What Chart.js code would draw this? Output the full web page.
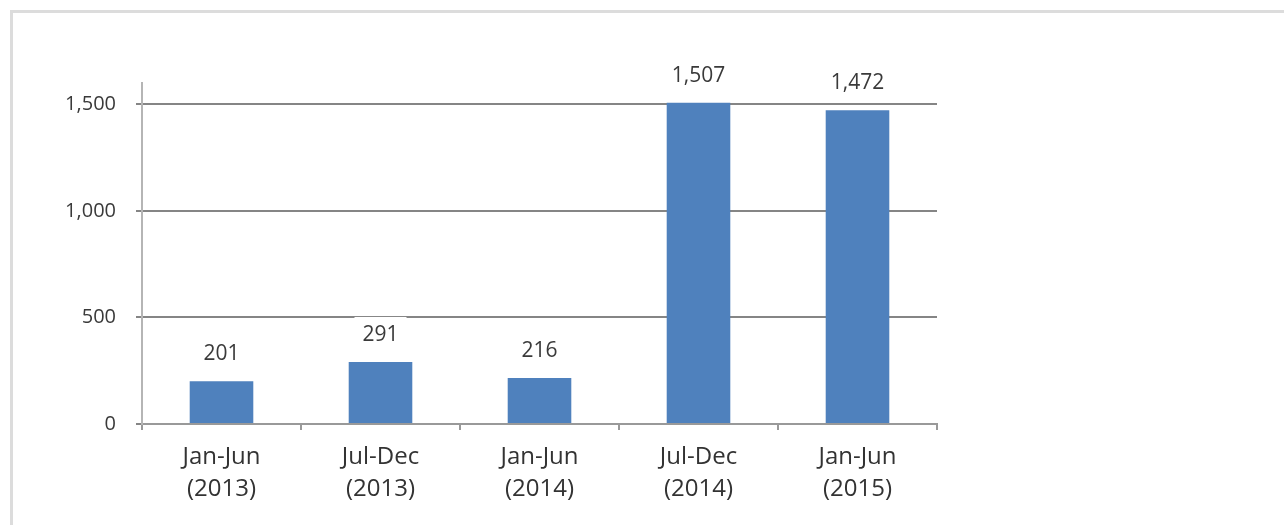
<!DOCTYPE html>
<html>
<head>
<meta charset="utf-8">
<script src="https://cdn.jsdelivr.net/npm/chart.js@4/dist/chart.umd.min.js"></script>
<style>
  html, body { margin: 0; padding: 0; background: #ffffff; }
  #wrap { position: relative; width: 1284px; height: 525px; overflow: hidden; }
  #frame { position: absolute; left: 10px; top: 10px; right: -10px; bottom: -10px;
           border-left: 3px solid #dcdcdc; border-top: 3px solid #dcdcdc; }
  canvas { position: absolute; left: 0; top: 0; }
</style>
</head>
<body>
<div id="wrap">
  <div id="frame"></div>
  <canvas id="c" width="1284" height="525"></canvas>
</div>
<script>
const categories = [["Jan-Jun", "(2013)"], ["Jul-Dec", "(2013)"], ["Jan-Jun", "(2014)"], ["Jul-Dec", "(2014)"], ["Jan-Jun", "(2015)"]];
const values = [201, 291, 216, 1507, 1472];
const yTickValues = [0, 500, 1000, 1500];
const yMax = 1600;

const FONT = "'Open Sans', 'DejaVu Sans', sans-serif";

const labelPlugin = {
  id: 'barLabels',
  afterDatasetsDraw(chart) {
    const ctx = chart.ctx;
    const meta = chart.getDatasetMeta(0);
    ctx.save();
    ctx.font = "21px " + FONT;
    ctx.textAlign = 'center';
    ctx.textBaseline = 'middle';
    meta.data.forEach((bar, i) => {
      const txt = values[i].toLocaleString('en-US');
      const cy = bar.y - 27;
      const w = ctx.measureText(txt).width + 16;
      ctx.fillStyle = '#ffffff';
      ctx.fillRect(bar.x - w / 2, cy - 18, w, 34);
      ctx.fillStyle = '#3a3a3a';
      ctx.fillText(txt, bar.x, cy);
    });
    ctx.restore();
  }
};

new Chart(document.getElementById('c'), {
  type: 'bar',
  data: {
    labels: categories,
    datasets: [{
      data: values,
      backgroundColor: '#4f81bd',
      borderWidth: 0,
      barPercentage: 0.4,
      categoryPercentage: 1.0
    }]
  },
  options: {
    responsive: false,
    animation: false,
    devicePixelRatio: 1,
    layout: { padding: { left: 0, right: 347, top: 83, bottom: 0 } },
    plugins: { legend: { display: false }, tooltip: { enabled: false } },
    scales: {
      x: {
        offset: true,
        grid: { offset: true, drawOnChartArea: false, drawTicks: true, tickLength: 6, color: '#999999', lineWidth: 2 },
        border: { display: true, color: '#999999', width: 2 },
        ticks: { font: { size: 24, family: FONT, lineHeight: 1.3 }, color: '#333333', padding: 12, maxRotation: 0, autoSkip: false },
        afterFit(scale) { scale.height = 101; }
      },
      y: {
        min: 0,
        max: yMax,
        afterBuildTicks(scale) {
          scale.ticks = yTickValues.map(v => ({ value: v }));
        },
        grid: { color: '#858585', lineWidth: 2, tickLength: 6, drawTicks: true },
        border: { display: true, color: '#b5b5b5', width: 2 },
        ticks: {
          font: { size: 20, family: FONT }, color: '#3a3a3a', padding: 20,
          callback: (v) => Number(v).toLocaleString('en-US')
        },
        afterFit(scale) { scale.width = 142; }
      }
    }
  },
  plugins: [labelPlugin]
});
</script>
</body>
</html>
